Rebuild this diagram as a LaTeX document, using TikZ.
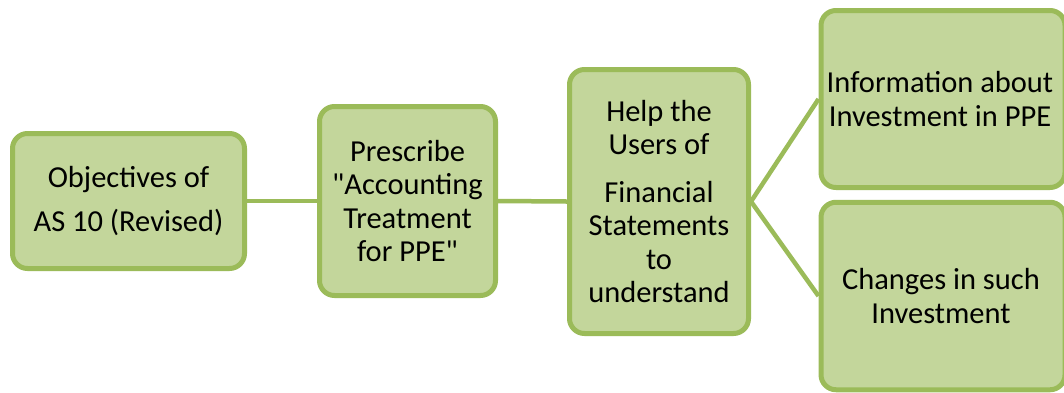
\documentclass[tikz,border=0pt]{standalone}
\usepackage{fontspec}
\newfontfamily\boxfont{Carlito}
\definecolor{boxfill}{HTML}{C3D69B}
\definecolor{boxline}{HTML}{9BBB59}
\begin{document}
\begin{tikzpicture}[x=1pt,y=-1pt,
  gbox/.style={draw=boxline,fill=boxfill,line width=5pt,rounded corners=15pt,
    align=center,inner sep=0pt,font=\boxfont\fontsize{30.5}{33.5}\selectfont},
  link/.style={draw=boxline,line width=4.5pt}]
\useasboundingbox (0,0) rectangle (1064,392);
\node[gbox,minimum width=232pt,minimum height=135pt] (b1) at (128.5,201)
  {Objectives of\\[11pt]AS 10 (Revised)};
\node[gbox,minimum width=176pt,minimum height=189pt] (b2) at (407.5,201)
  {Prescribe\\"Accounting\\Treatment\\for PPE"};
\node[gbox,minimum width=179pt,minimum height=264pt] (b3) at (659,201.5)
  {Help the\\Users of\\[14pt]Financial\\Statements\\to\\understand};
\node[gbox,minimum width=244pt,minimum height=177pt] (b4) at (943,99)
  {\hspace*{-6pt}Information about\\\hspace*{-6pt}Investment in PPE};
\node[gbox,minimum width=244pt,minimum height=187.5pt] (b5) at (943,296)
  {\hspace*{-4pt}Changes in such\\\hspace*{-4pt}Investment};
\draw[link] (b1.east) -- (b2.west);
\draw[link] (b2.east) -- (b3.west);
\draw[link] (b3.east) -- (b4.west);
\draw[link] (b3.east) -- (b5.west);
\end{tikzpicture}
\end{document}
